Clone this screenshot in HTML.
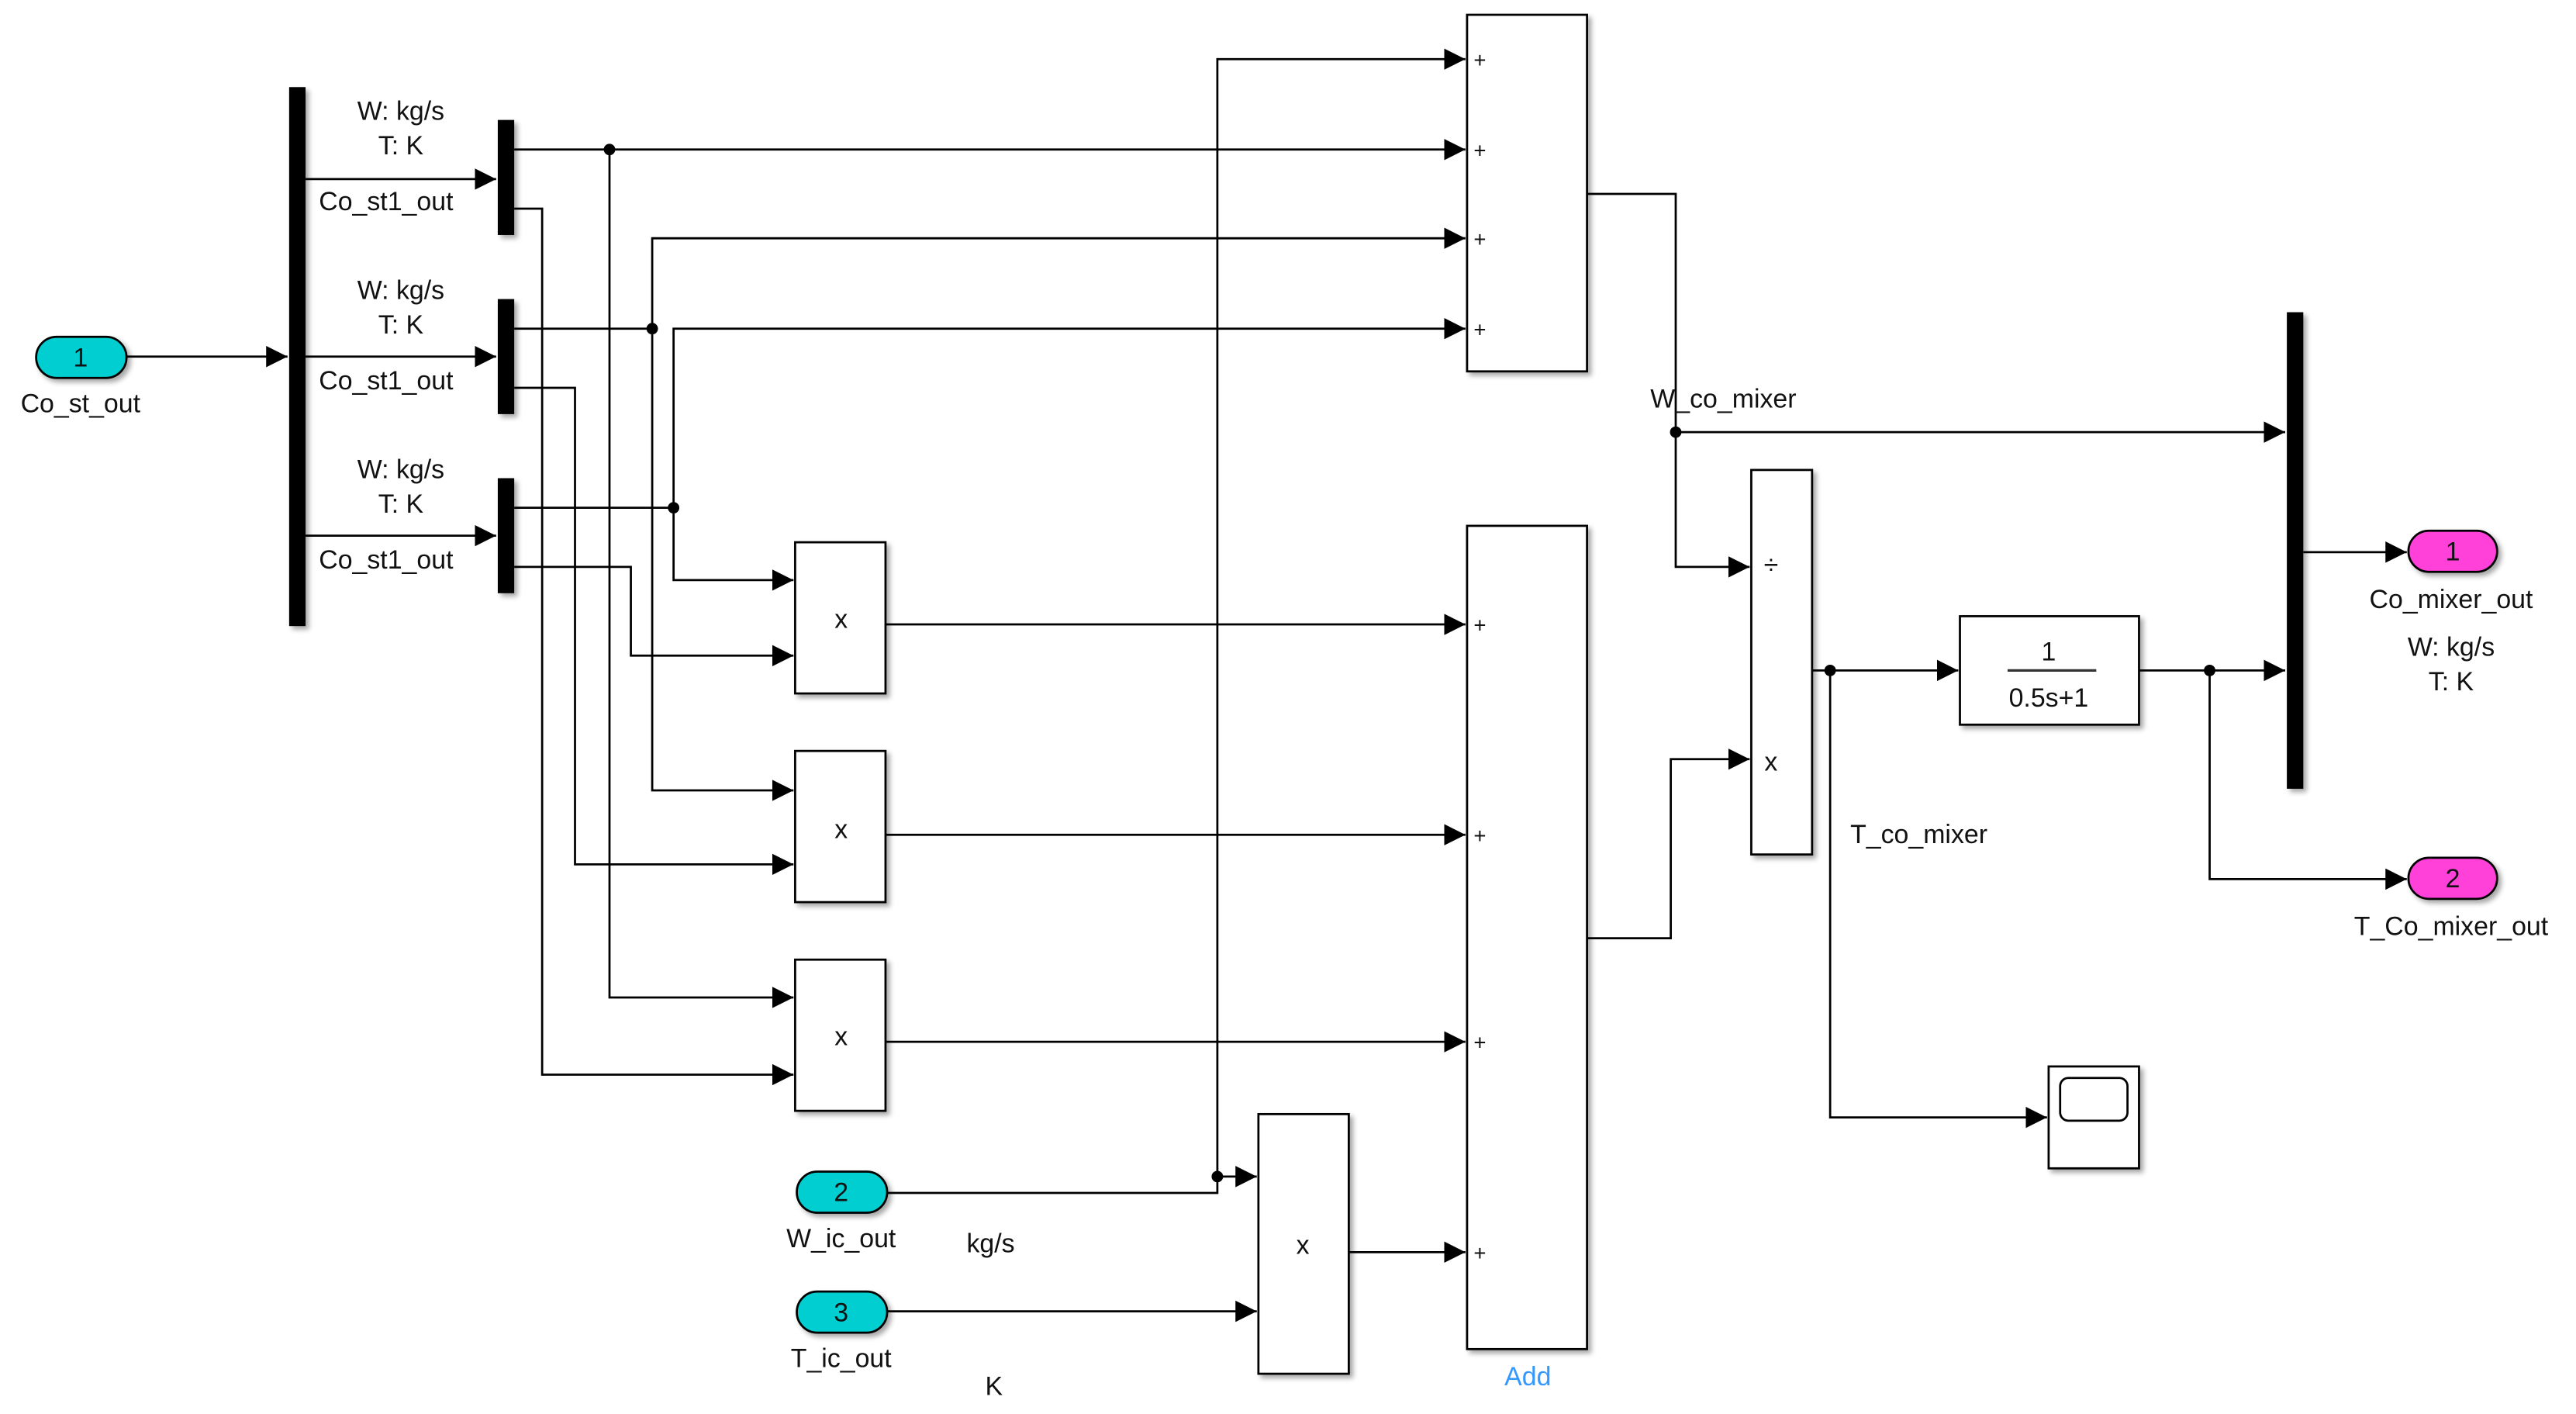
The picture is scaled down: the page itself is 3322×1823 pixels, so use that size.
<!DOCTYPE html>
<html><head><meta charset="utf-8"><style>
html,body{margin:0;padding:0;background:#fff;}
svg{display:block;}
text{font-family:"Liberation Sans",Arial,sans-serif;font-size:16px;fill:#111;}
</style></head><body>
<svg width="3322" height="1823" viewBox="0 0 1568 860.5" preserveAspectRatio="none" xmlns="http://www.w3.org/2000/svg">
<defs>
<marker id="a" viewBox="0 0 10 10" refX="10" refY="5" markerWidth="13" markerHeight="13" markerUnits="userSpaceOnUse" orient="auto"><path d="M0,0L10,5L0,10z" fill="#000"/></marker>
<filter id="sh" x="-20%" y="-20%" width="150%" height="150%"><feDropShadow dx="2" dy="2" stdDeviation="1.5" flood-color="#000" flood-opacity="0.35"/></filter>
</defs>
<g fill="none" stroke="#000" stroke-width="1.3">
<!-- input 1 -->
<path d="M77,217H175" marker-end="url(#a)"/>
<path d="M186,109H302" marker-end="url(#a)"/>
<path d="M186,217H302" marker-end="url(#a)"/>
<path d="M186,326H302" marker-end="url(#a)"/>
<!-- bar1 -->
<path d="M313,91H892" marker-end="url(#a)"/>
<path d="M371,91V607H483" marker-end="url(#a)"/>
<path d="M313,127H330V654H483" marker-end="url(#a)"/>
<!-- bar2 -->
<path d="M313,200H397"/>
<path d="M397,200V145H892" marker-end="url(#a)"/>
<path d="M397,200V481H483" marker-end="url(#a)"/>
<path d="M313,236H350V526H483" marker-end="url(#a)"/>
<!-- bar3 -->
<path d="M313,309H410"/>
<path d="M410,309V200H892" marker-end="url(#a)"/>
<path d="M410,309V353H483" marker-end="url(#a)"/>
<path d="M313,345H384V399H483" marker-end="url(#a)"/>
<!-- mult outputs -->
<path d="M539,380H892" marker-end="url(#a)"/>
<path d="M539,508H892" marker-end="url(#a)"/>
<path d="M539,634H892" marker-end="url(#a)"/>
<!-- W_ic -->
<path d="M540,726H741V716"/>
<path d="M741,716V36H892" marker-end="url(#a)"/>
<path d="M741,716H765" marker-end="url(#a)"/>
<path d="M540,798H765" marker-end="url(#a)"/>
<path d="M821,762H892" marker-end="url(#a)"/>
<!-- add outputs -->
<path d="M966,118H1020V345H1065" marker-end="url(#a)"/>
<path d="M1020,263H1391" marker-end="url(#a)"/>
<path d="M966,571H1017V462H1065" marker-end="url(#a)"/>
<!-- divide out -->
<path d="M1103,408H1192" marker-end="url(#a)"/>
<path d="M1114,408V680H1246" marker-end="url(#a)"/>
<path d="M1302,408H1391" marker-end="url(#a)"/>
<path d="M1345,408V535H1465" marker-end="url(#a)"/>
<path d="M1402,336H1465" marker-end="url(#a)"/>
</g>
<g fill="#000">
<circle cx="371" cy="91" r="3.5"/><circle cx="397" cy="200" r="3.5"/><circle cx="410" cy="309" r="3.5"/>
<circle cx="741" cy="716" r="3.5"/><circle cx="1020" cy="263" r="3.5"/><circle cx="1114" cy="408" r="3.5"/><circle cx="1345" cy="408" r="3.5"/>
</g>
<g filter="url(#sh)">
<rect x="176" y="53" width="10" height="328" fill="#000"/>
<rect x="303" y="73" width="10" height="70" fill="#000"/>
<rect x="303" y="182" width="10" height="70" fill="#000"/>
<rect x="303" y="291" width="10" height="70" fill="#000"/>
<rect x="1392" y="190" width="10" height="290" fill="#000"/>
<g fill="#fff" stroke="#000" stroke-width="1.3">
<rect x="484" y="330" width="55" height="92"/>
<rect x="484" y="457" width="55" height="92"/>
<rect x="484" y="584" width="55" height="92"/>
<rect x="766" y="678" width="55" height="158"/>
<rect x="893" y="9" width="73" height="217"/>
<rect x="893" y="320" width="73" height="501"/>
<rect x="1066" y="286" width="37" height="234"/>
<rect x="1193" y="375" width="109" height="66"/>
<rect x="1247" y="649" width="55" height="62"/>
<rect x="1254" y="656" width="41" height="26" rx="5"/>
</g>
<g stroke="#000" stroke-width="1.3">
<rect x="22" y="205" width="55" height="25" rx="12.5" fill="#00CED1"/>
<rect x="485" y="713" width="55" height="25" rx="12.5" fill="#00CED1"/>
<rect x="485" y="786" width="55" height="25" rx="12.5" fill="#00CED1"/>
<rect x="1466" y="323" width="54" height="25" rx="12.5" fill="#FF3FD9"/>
<rect x="1466" y="522" width="54" height="25" rx="12.5" fill="#FF3FD9"/>
</g>
</g>
<line x1="1222" y1="408" x2="1276" y2="408" stroke="#333" stroke-width="1.5"/>
<g text-anchor="middle">
<text x="49" y="223">1</text><text x="512" y="731">2</text><text x="512" y="804">3</text>
<text x="1493" y="341">1</text><text x="1493" y="540">2</text>
<text x="49" y="251">Co_st_out</text>
<text x="512" y="759">W_ic_out</text><text x="512" y="832">T_ic_out</text>
<text x="603" y="762">kg/s</text><text x="605" y="849">K</text>
<text x="244" y="73">W: kg/s</text><text x="244" y="94">T: K</text><text x="235" y="128" font-size="15">Co_st1_out</text>
<text x="244" y="182">W: kg/s</text><text x="244" y="203">T: K</text><text x="235" y="237" font-size="15">Co_st1_out</text>
<text x="244" y="291">W: kg/s</text><text x="244" y="312">T: K</text><text x="235" y="346" font-size="15">Co_st1_out</text>
<text x="512" y="382">x</text><text x="512" y="510">x</text><text x="512" y="636">x</text><text x="793" y="763">x</text>
<text x="930" y="843" style="fill:#3399ff">Add</text>
<text x="1049" y="248">W_co_mixer</text>
<text x="1078" y="349">÷</text><text x="1078" y="469">x</text>
<text x="1247" y="402">1</text><text x="1247" y="430">0.5s+1</text>
<text x="1168" y="513">T_co_mixer</text>
<text x="1492" y="370">Co_mixer_out</text><text x="1492" y="399">W: kg/s</text><text x="1492" y="420">T: K</text>
<text x="1492" y="569">T_Co_mixer_out</text>
</g>
<g font-size="13">
<text x="897" y="41" style="font-size:13px">+</text><text x="897" y="96" style="font-size:13px">+</text><text x="897" y="150" style="font-size:13px">+</text><text x="897" y="205" style="font-size:13px">+</text>
<text x="897" y="385" style="font-size:13px">+</text><text x="897" y="513" style="font-size:13px">+</text><text x="897" y="639" style="font-size:13px">+</text><text x="897" y="767" style="font-size:13px">+</text>
</g>
</svg>
</body></html>
